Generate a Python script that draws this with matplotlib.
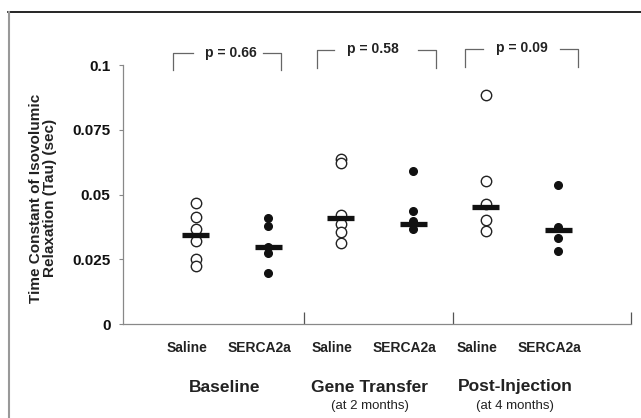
import matplotlib
matplotlib.use("Agg")
import matplotlib.pyplot as plt
from matplotlib.lines import Line2D
from matplotlib.transforms import blended_transform_factory

plt.rcParams['font.family'] = ['Liberation Sans', 'DejaVu Sans']
plt.rcParams['font.weight'] = 'bold'

# ---- data ----
positions = [1, 2, 3, 4, 5, 6]
treatments = ["Saline", "SERCA2a", "Saline", "SERCA2a", "Saline", "SERCA2a"]
groups = ["Baseline", "Gene Transfer", "Post-Injection"]
group_sub = ["", "(at 2 months)", "(at 4 months)"]
group_centers = [1.5, 3.5, 5.5]

saline_baseline = [0.0469, 0.0415, 0.0365, 0.0319, 0.0250, 0.0223]
serca_baseline = [0.0408, 0.0377, 0.0296, 0.0273, 0.0196]
saline_gene = [0.0638, 0.0623, 0.0420, 0.0388, 0.0354, 0.0312]
serca_gene = [0.0592, 0.0438, 0.0396, 0.0365]
saline_post = [0.0885, 0.0554, 0.0465, 0.0400, 0.0358]
serca_post = [0.0538, 0.0373, 0.0331, 0.0281]
means = [0.0342, 0.0296, 0.0408, 0.0388, 0.0450, 0.0362]

p_values = ["p = 0.66", "p = 0.58", "p = 0.09"]
yticks = [0, 0.025, 0.05, 0.075, 0.1]
ytick_labels = ["0", "0.025", "0.05", "0.075", "0.1"]

series = [saline_baseline, serca_baseline, saline_gene, serca_gene, saline_post, serca_post]

fig = plt.figure(figsize=(6.41, 4.18), dpi=100)
ax = fig.add_axes([123/641, 1-324/418, (631-123)/641, (324-65)/418])

grey = "#888888"
for i, (pos, vals) in enumerate(zip(positions, series)):
    xs = [pos] * len(vals)
    if i % 2 == 0:
        ax.plot(xs, vals, 'o', ms=7.5, mfc='white', mec='#222222', mew=1.0, ls='none', zorder=3)
    else:
        ax.plot(xs, vals, 'o', ms=5.5, mfc='#111111', mec='#111111', ls='none', zorder=3)
    ax.hlines(means[i], pos - 0.185, pos + 0.185, colors='#111111', lw=3.8, zorder=4)

ax.set_xlim(0, 7)
ax.set_ylim(0, 0.1)

for s in ['top', 'right']:
    ax.spines[s].set_visible(False)
for s in ['left', 'bottom']:
    ax.spines[s].set_color(grey)
    ax.spines[s].set_linewidth(0.9)

ax.set_yticks(yticks)
ax.set_yticklabels(ytick_labels, fontsize=11, fontweight='bold', color='#111111')
ax.tick_params(axis='y', direction='out', length=3, width=0.8, color=grey, pad=6)

ax.set_xticks([2.5, 4.55, 7])
ax.set_xticklabels(["", "", ""])
ax.tick_params(axis='x', direction='in', length=9, width=0.9, color='#555555')

# category labels
tr = blended_transform_factory(ax.transData, fig.transFigure)
for pos, lab in zip(positions, treatments):
    ax.text(pos - 0.12, 1 - 348/418, lab, transform=tr, ha='center', va='center',
            fontsize=10, fontweight='bold', color='#222222')
for c, g, sub in zip(group_centers, groups, group_sub):
    ax.text(c - 0.1, 1 - 387/418, g, transform=tr, ha='center', va='center',
            fontsize=12.5, fontweight='bold', color='#222222')
    if sub:
        ax.text(c - 0.1, 1 - 406/418, sub, transform=tr, ha='center', va='center',
                fontsize=9.5, fontweight='normal', color='#222222')

# significance brackets
brackets = [
    (0.69, 0.96, 1.93, 2.18, 0.1046, 0.0981, 1.49),
    (2.67, 2.91, 4.07, 4.31, 0.1058, 0.0988, 3.44),
    (4.71, 4.96, 6.02, 6.27, 0.1062, 0.0992, 5.50),
]
bc = '#666666'
for (l, l2, r2, r, top, bot, tx), pv in zip(brackets, p_values):
    ax.plot([l, l, l2], [bot, top, top], color=bc, lw=0.9, clip_on=False)
    ax.plot([r2, r, r], [top, top, bot], color=bc, lw=0.9, clip_on=False)
    ax.text(tx, top + 0.0002, pv, ha='center', va='center', fontsize=10,
            fontweight='bold', color='#222222', clip_on=False)

fig.text(43/641, 1 - 198/418, "Time Constant of Isovolumic\nRelaxation (Tau) (sec)",
         rotation=90, ha='center', va='center', fontsize=11, fontweight='bold',
         color='#222222', linespacing=0.95)

# figure frame lines
fig.add_artist(Line2D([8/641, 1], [1 - 11.5/418, 1 - 11.5/418], color='black', lw=1.2,
                      transform=fig.transFigure))
fig.add_artist(Line2D([9/641, 9/641], [0, 1 - 11.5/418], color='#999999', lw=1.5,
                      transform=fig.transFigure))

fig.savefig("out.png", dpi=100)
